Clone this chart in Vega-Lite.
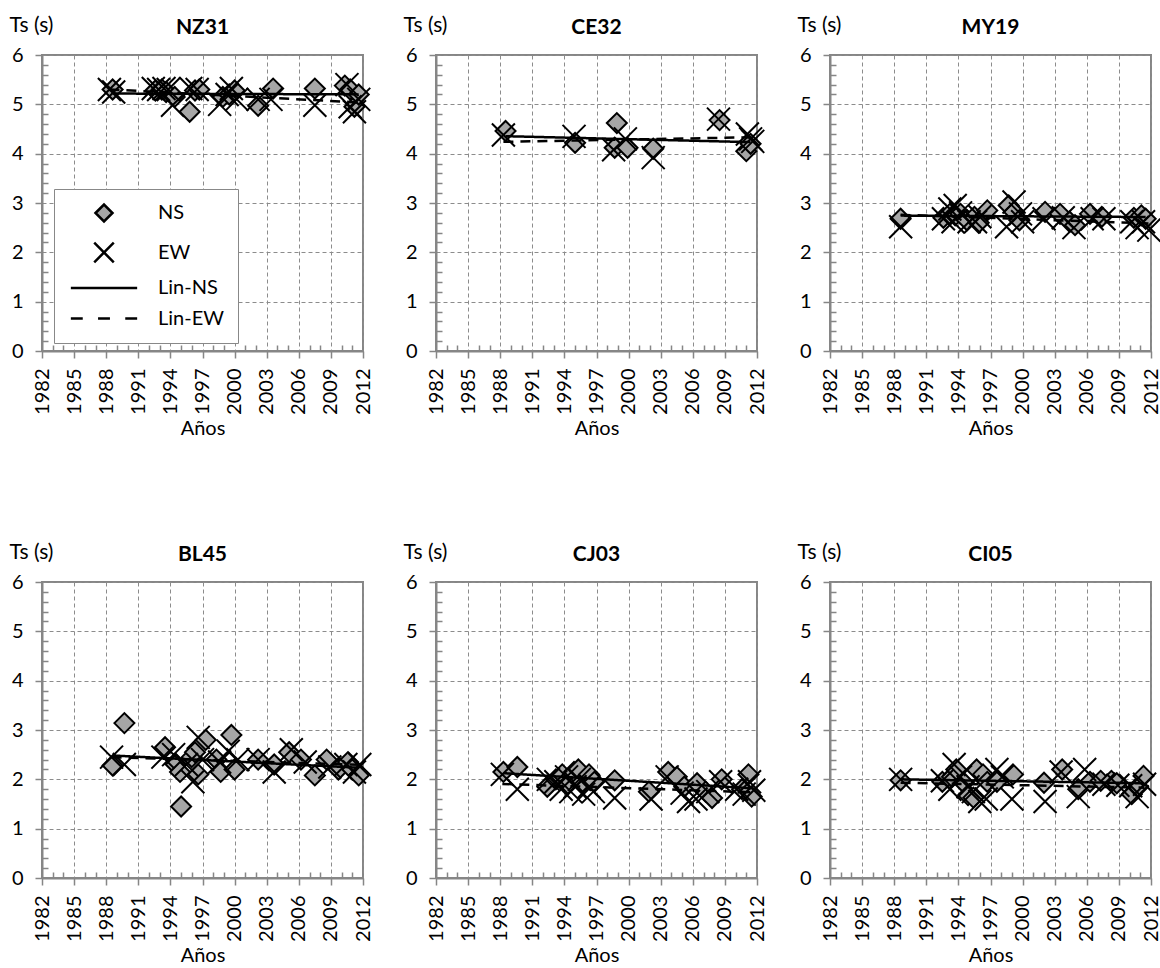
{
  "$schema": "https://vega.github.io/schema/vega-lite/v6.json",
  "padding": {"left": 8, "top": 13, "right": 5, "bottom": 2},
  "background": "white",
  "datasets": {
    "d": [
      {"st":"NZ31","comp":"NS","year":1988.6,"Ts":5.3},
      {"st":"NZ31","comp":"NS","year":1992.6,"Ts":5.28},
      {"st":"NZ31","comp":"NS","year":1993.2,"Ts":5.3},
      {"st":"NZ31","comp":"NS","year":1993.6,"Ts":5.25},
      {"st":"NZ31","comp":"NS","year":1994.4,"Ts":5.15},
      {"st":"NZ31","comp":"NS","year":1995.8,"Ts":4.85},
      {"st":"NZ31","comp":"NS","year":1996.3,"Ts":5.28},
      {"st":"NZ31","comp":"NS","year":1996.7,"Ts":5.3},
      {"st":"NZ31","comp":"NS","year":1998.9,"Ts":5.15},
      {"st":"NZ31","comp":"NS","year":1999.5,"Ts":5.2},
      {"st":"NZ31","comp":"NS","year":2000.0,"Ts":5.28},
      {"st":"NZ31","comp":"NS","year":2002.2,"Ts":4.97},
      {"st":"NZ31","comp":"NS","year":2003.6,"Ts":5.32},
      {"st":"NZ31","comp":"NS","year":2007.5,"Ts":5.32},
      {"st":"NZ31","comp":"NS","year":2010.3,"Ts":5.38},
      {"st":"NZ31","comp":"NS","year":2010.8,"Ts":5.3},
      {"st":"NZ31","comp":"NS","year":2011.2,"Ts":4.95},
      {"st":"NZ31","comp":"NS","year":2011.6,"Ts":5.2},
      {"st":"NZ31","comp":"EW","year":1988.3,"Ts":5.3},
      {"st":"NZ31","comp":"EW","year":1988.7,"Ts":5.25},
      {"st":"NZ31","comp":"EW","year":1992.4,"Ts":5.32},
      {"st":"NZ31","comp":"EW","year":1992.9,"Ts":5.3},
      {"st":"NZ31","comp":"EW","year":1993.4,"Ts":5.32},
      {"st":"NZ31","comp":"EW","year":1993.8,"Ts":5.3},
      {"st":"NZ31","comp":"EW","year":1994.2,"Ts":4.98},
      {"st":"NZ31","comp":"EW","year":1995.9,"Ts":5.32},
      {"st":"NZ31","comp":"EW","year":1996.5,"Ts":5.3},
      {"st":"NZ31","comp":"EW","year":1998.6,"Ts":5.0},
      {"st":"NZ31","comp":"EW","year":1999.3,"Ts":5.2},
      {"st":"NZ31","comp":"EW","year":1999.7,"Ts":5.32},
      {"st":"NZ31","comp":"EW","year":2000.2,"Ts":5.1},
      {"st":"NZ31","comp":"EW","year":2002.2,"Ts":5.1},
      {"st":"NZ31","comp":"EW","year":2003.4,"Ts":5.1},
      {"st":"NZ31","comp":"EW","year":2007.5,"Ts":4.98},
      {"st":"NZ31","comp":"EW","year":2010.5,"Ts":5.4},
      {"st":"NZ31","comp":"EW","year":2010.8,"Ts":4.95},
      {"st":"NZ31","comp":"EW","year":2011.2,"Ts":4.85},
      {"st":"NZ31","comp":"EW","year":2011.6,"Ts":5.1},

      {"st":"CE32","comp":"NS","year":1988.5,"Ts":4.46},
      {"st":"CE32","comp":"NS","year":1995.0,"Ts":4.22},
      {"st":"CE32","comp":"NS","year":1998.9,"Ts":4.62},
      {"st":"CE32","comp":"NS","year":1998.7,"Ts":4.12},
      {"st":"CE32","comp":"NS","year":1999.9,"Ts":4.12},
      {"st":"CE32","comp":"NS","year":2002.3,"Ts":4.1},
      {"st":"CE32","comp":"NS","year":2008.5,"Ts":4.68},
      {"st":"CE32","comp":"NS","year":2011.0,"Ts":4.05},
      {"st":"CE32","comp":"NS","year":2011.4,"Ts":4.2},
      {"st":"CE32","comp":"EW","year":1988.3,"Ts":4.38},
      {"st":"CE32","comp":"EW","year":1994.9,"Ts":4.35},
      {"st":"CE32","comp":"EW","year":1998.6,"Ts":4.08},
      {"st":"CE32","comp":"EW","year":1999.7,"Ts":4.3},
      {"st":"CE32","comp":"EW","year":2002.3,"Ts":3.92},
      {"st":"CE32","comp":"EW","year":2008.4,"Ts":4.7},
      {"st":"CE32","comp":"EW","year":2011.1,"Ts":4.4},
      {"st":"CE32","comp":"EW","year":2011.4,"Ts":4.3},
      {"st":"CE32","comp":"EW","year":2011.6,"Ts":4.25},

      {"st":"MY19","comp":"NS","year":1988.6,"Ts":2.68},
      {"st":"MY19","comp":"NS","year":1992.6,"Ts":2.7},
      {"st":"MY19","comp":"NS","year":1993.2,"Ts":2.78},
      {"st":"MY19","comp":"NS","year":1993.7,"Ts":2.75},
      {"st":"MY19","comp":"NS","year":1994.2,"Ts":2.78},
      {"st":"MY19","comp":"NS","year":1994.8,"Ts":2.65},
      {"st":"MY19","comp":"NS","year":1995.5,"Ts":2.72},
      {"st":"MY19","comp":"NS","year":1995.9,"Ts":2.6},
      {"st":"MY19","comp":"NS","year":1996.7,"Ts":2.85},
      {"st":"MY19","comp":"NS","year":1998.7,"Ts":2.95},
      {"st":"MY19","comp":"NS","year":1999.2,"Ts":2.82},
      {"st":"MY19","comp":"NS","year":1999.7,"Ts":2.65},
      {"st":"MY19","comp":"NS","year":2002.1,"Ts":2.82},
      {"st":"MY19","comp":"NS","year":2003.5,"Ts":2.78},
      {"st":"MY19","comp":"NS","year":2004.4,"Ts":2.62},
      {"st":"MY19","comp":"NS","year":2004.9,"Ts":2.55},
      {"st":"MY19","comp":"NS","year":2006.3,"Ts":2.78},
      {"st":"MY19","comp":"NS","year":2007.4,"Ts":2.72},
      {"st":"MY19","comp":"NS","year":2010.4,"Ts":2.7},
      {"st":"MY19","comp":"NS","year":2011.1,"Ts":2.75},
      {"st":"MY19","comp":"NS","year":2011.5,"Ts":2.68},
      {"st":"MY19","comp":"EW","year":1988.6,"Ts":2.52},
      {"st":"MY19","comp":"EW","year":1992.6,"Ts":2.68},
      {"st":"MY19","comp":"EW","year":1993.2,"Ts":2.88},
      {"st":"MY19","comp":"EW","year":1993.5,"Ts":2.62},
      {"st":"MY19","comp":"EW","year":1993.7,"Ts":2.95},
      {"st":"MY19","comp":"EW","year":1994.2,"Ts":2.8},
      {"st":"MY19","comp":"EW","year":1995.0,"Ts":2.62},
      {"st":"MY19","comp":"EW","year":1995.6,"Ts":2.62},
      {"st":"MY19","comp":"EW","year":1996.0,"Ts":2.72},
      {"st":"MY19","comp":"EW","year":1998.5,"Ts":2.52},
      {"st":"MY19","comp":"EW","year":1999.2,"Ts":3.02},
      {"st":"MY19","comp":"EW","year":1999.8,"Ts":2.78},
      {"st":"MY19","comp":"EW","year":2000.0,"Ts":2.62},
      {"st":"MY19","comp":"EW","year":2002.0,"Ts":2.68},
      {"st":"MY19","comp":"EW","year":2003.8,"Ts":2.7},
      {"st":"MY19","comp":"EW","year":2004.8,"Ts":2.5},
      {"st":"MY19","comp":"EW","year":2006.5,"Ts":2.68},
      {"st":"MY19","comp":"EW","year":2007.6,"Ts":2.68},
      {"st":"MY19","comp":"EW","year":2010.2,"Ts":2.62},
      {"st":"MY19","comp":"EW","year":2010.7,"Ts":2.5},
      {"st":"MY19","comp":"EW","year":2011.3,"Ts":2.62},
      {"st":"MY19","comp":"EW","year":2011.8,"Ts":2.45},

      {"st":"BL45","comp":"NS","year":1988.6,"Ts":2.28},
      {"st":"BL45","comp":"NS","year":1989.7,"Ts":3.14},
      {"st":"BL45","comp":"NS","year":1993.5,"Ts":2.65},
      {"st":"BL45","comp":"NS","year":1994.5,"Ts":2.3},
      {"st":"BL45","comp":"NS","year":1994.9,"Ts":2.15},
      {"st":"BL45","comp":"NS","year":1995.0,"Ts":1.45},
      {"st":"BL45","comp":"NS","year":1996.0,"Ts":2.45},
      {"st":"BL45","comp":"NS","year":1996.3,"Ts":2.55},
      {"st":"BL45","comp":"NS","year":1996.6,"Ts":2.1},
      {"st":"BL45","comp":"NS","year":1997.3,"Ts":2.8},
      {"st":"BL45","comp":"NS","year":1998.3,"Ts":2.4},
      {"st":"BL45","comp":"NS","year":1998.7,"Ts":2.15},
      {"st":"BL45","comp":"NS","year":1999.7,"Ts":2.9},
      {"st":"BL45","comp":"NS","year":2000.0,"Ts":2.2},
      {"st":"BL45","comp":"NS","year":2002.2,"Ts":2.4},
      {"st":"BL45","comp":"NS","year":2003.7,"Ts":2.3},
      {"st":"BL45","comp":"NS","year":2005.1,"Ts":2.55},
      {"st":"BL45","comp":"NS","year":2006.2,"Ts":2.4},
      {"st":"BL45","comp":"NS","year":2007.5,"Ts":2.08},
      {"st":"BL45","comp":"NS","year":2008.6,"Ts":2.4},
      {"st":"BL45","comp":"NS","year":2009.7,"Ts":2.2},
      {"st":"BL45","comp":"NS","year":2010.6,"Ts":2.35},
      {"st":"BL45","comp":"NS","year":2011.0,"Ts":2.2},
      {"st":"BL45","comp":"NS","year":2011.6,"Ts":2.08},
      {"st":"BL45","comp":"EW","year":1988.5,"Ts":2.45},
      {"st":"BL45","comp":"EW","year":1989.7,"Ts":2.3},
      {"st":"BL45","comp":"EW","year":1993.3,"Ts":2.45},
      {"st":"BL45","comp":"EW","year":1994.3,"Ts":2.5},
      {"st":"BL45","comp":"EW","year":1995.5,"Ts":2.3},
      {"st":"BL45","comp":"EW","year":1996.1,"Ts":1.95},
      {"st":"BL45","comp":"EW","year":1996.6,"Ts":2.85},
      {"st":"BL45","comp":"EW","year":1997.0,"Ts":2.4},
      {"st":"BL45","comp":"EW","year":1998.6,"Ts":2.35},
      {"st":"BL45","comp":"EW","year":1999.4,"Ts":2.57},
      {"st":"BL45","comp":"EW","year":2000.3,"Ts":2.4},
      {"st":"BL45","comp":"EW","year":2002.2,"Ts":2.4},
      {"st":"BL45","comp":"EW","year":2003.7,"Ts":2.15},
      {"st":"BL45","comp":"EW","year":2005.3,"Ts":2.6},
      {"st":"BL45","comp":"EW","year":2006.6,"Ts":2.35},
      {"st":"BL45","comp":"EW","year":2008.9,"Ts":2.25},
      {"st":"BL45","comp":"EW","year":2010.4,"Ts":2.3},
      {"st":"BL45","comp":"EW","year":2011.2,"Ts":2.15},
      {"st":"BL45","comp":"EW","year":2011.7,"Ts":2.3},

      {"st":"CJ03","comp":"NS","year":1988.3,"Ts":2.15},
      {"st":"CJ03","comp":"NS","year":1989.6,"Ts":2.25},
      {"st":"CJ03","comp":"NS","year":1992.4,"Ts":1.85},
      {"st":"CJ03","comp":"NS","year":1993.2,"Ts":2.0},
      {"st":"CJ03","comp":"NS","year":1993.8,"Ts":2.1},
      {"st":"CJ03","comp":"NS","year":1994.3,"Ts":1.9},
      {"st":"CJ03","comp":"NS","year":1994.9,"Ts":2.15},
      {"st":"CJ03","comp":"NS","year":1995.3,"Ts":2.2},
      {"st":"CJ03","comp":"NS","year":1995.7,"Ts":1.95},
      {"st":"CJ03","comp":"NS","year":1996.3,"Ts":2.1},
      {"st":"CJ03","comp":"NS","year":1996.8,"Ts":1.95},
      {"st":"CJ03","comp":"NS","year":1998.7,"Ts":1.98},
      {"st":"CJ03","comp":"NS","year":2001.9,"Ts":1.75},
      {"st":"CJ03","comp":"NS","year":2003.7,"Ts":2.15},
      {"st":"CJ03","comp":"NS","year":2004.5,"Ts":2.05},
      {"st":"CJ03","comp":"NS","year":2005.2,"Ts":1.85},
      {"st":"CJ03","comp":"NS","year":2006.4,"Ts":1.92},
      {"st":"CJ03","comp":"NS","year":2007.2,"Ts":1.75},
      {"st":"CJ03","comp":"NS","year":2007.8,"Ts":1.62},
      {"st":"CJ03","comp":"NS","year":2008.7,"Ts":2.0},
      {"st":"CJ03","comp":"NS","year":2010.6,"Ts":1.8},
      {"st":"CJ03","comp":"NS","year":2011.2,"Ts":2.1},
      {"st":"CJ03","comp":"NS","year":2011.5,"Ts":1.65},
      {"st":"CJ03","comp":"EW","year":1988.2,"Ts":2.1},
      {"st":"CJ03","comp":"EW","year":1989.6,"Ts":1.8},
      {"st":"CJ03","comp":"EW","year":1992.5,"Ts":2.0},
      {"st":"CJ03","comp":"EW","year":1993.2,"Ts":1.95},
      {"st":"CJ03","comp":"EW","year":1993.7,"Ts":1.8},
      {"st":"CJ03","comp":"EW","year":1994.2,"Ts":2.05},
      {"st":"CJ03","comp":"EW","year":1994.6,"Ts":1.75},
      {"st":"CJ03","comp":"EW","year":1995.0,"Ts":1.85},
      {"st":"CJ03","comp":"EW","year":1995.4,"Ts":2.0},
      {"st":"CJ03","comp":"EW","year":1995.8,"Ts":1.7},
      {"st":"CJ03","comp":"EW","year":1996.3,"Ts":1.85},
      {"st":"CJ03","comp":"EW","year":1996.7,"Ts":1.75},
      {"st":"CJ03","comp":"EW","year":1998.7,"Ts":1.62},
      {"st":"CJ03","comp":"EW","year":2002.1,"Ts":1.6},
      {"st":"CJ03","comp":"EW","year":2003.6,"Ts":2.05},
      {"st":"CJ03","comp":"EW","year":2005.0,"Ts":1.72},
      {"st":"CJ03","comp":"EW","year":2005.6,"Ts":1.55},
      {"st":"CJ03","comp":"EW","year":2006.3,"Ts":1.6},
      {"st":"CJ03","comp":"EW","year":2007.4,"Ts":1.75},
      {"st":"CJ03","comp":"EW","year":2008.6,"Ts":1.95},
      {"st":"CJ03","comp":"EW","year":2010.1,"Ts":1.8},
      {"st":"CJ03","comp":"EW","year":2010.8,"Ts":1.7},
      {"st":"CJ03","comp":"EW","year":2011.3,"Ts":1.95},
      {"st":"CJ03","comp":"EW","year":2011.7,"Ts":1.78},

      {"st":"CI05","comp":"NS","year":1988.6,"Ts":1.98},
      {"st":"CI05","comp":"NS","year":1992.5,"Ts":1.95},
      {"st":"CI05","comp":"NS","year":1993.4,"Ts":2.05},
      {"st":"CI05","comp":"NS","year":1993.8,"Ts":2.2},
      {"st":"CI05","comp":"NS","year":1994.5,"Ts":1.93},
      {"st":"CI05","comp":"NS","year":1994.9,"Ts":1.68},
      {"st":"CI05","comp":"NS","year":1995.4,"Ts":1.63},
      {"st":"CI05","comp":"NS","year":1995.7,"Ts":2.2},
      {"st":"CI05","comp":"NS","year":1996.3,"Ts":2.1},
      {"st":"CI05","comp":"NS","year":1996.7,"Ts":1.95},
      {"st":"CI05","comp":"NS","year":1997.6,"Ts":1.95},
      {"st":"CI05","comp":"NS","year":1999.1,"Ts":2.1},
      {"st":"CI05","comp":"NS","year":2002.0,"Ts":1.93},
      {"st":"CI05","comp":"NS","year":2003.7,"Ts":2.2},
      {"st":"CI05","comp":"NS","year":2005.2,"Ts":1.8},
      {"st":"CI05","comp":"NS","year":2006.3,"Ts":1.95},
      {"st":"CI05","comp":"NS","year":2007.3,"Ts":1.97},
      {"st":"CI05","comp":"NS","year":2008.3,"Ts":1.97},
      {"st":"CI05","comp":"NS","year":2008.8,"Ts":1.92},
      {"st":"CI05","comp":"NS","year":2010.2,"Ts":1.7},
      {"st":"CI05","comp":"NS","year":2010.8,"Ts":1.85},
      {"st":"CI05","comp":"NS","year":2011.3,"Ts":2.07},
      {"st":"CI05","comp":"EW","year":1988.6,"Ts":2.0},
      {"st":"CI05","comp":"EW","year":1992.5,"Ts":1.97},
      {"st":"CI05","comp":"EW","year":1993.2,"Ts":1.8},
      {"st":"CI05","comp":"EW","year":1993.6,"Ts":2.3},
      {"st":"CI05","comp":"EW","year":1994.2,"Ts":2.05},
      {"st":"CI05","comp":"EW","year":1994.9,"Ts":1.85},
      {"st":"CI05","comp":"EW","year":1995.4,"Ts":1.75},
      {"st":"CI05","comp":"EW","year":1996.0,"Ts":1.55},
      {"st":"CI05","comp":"EW","year":1996.6,"Ts":1.6},
      {"st":"CI05","comp":"EW","year":1997.6,"Ts":2.2},
      {"st":"CI05","comp":"EW","year":1998.1,"Ts":2.05},
      {"st":"CI05","comp":"EW","year":1999.0,"Ts":1.6},
      {"st":"CI05","comp":"EW","year":2002.1,"Ts":1.55},
      {"st":"CI05","comp":"EW","year":2003.6,"Ts":2.15},
      {"st":"CI05","comp":"EW","year":2005.2,"Ts":1.65},
      {"st":"CI05","comp":"EW","year":2005.8,"Ts":2.2},
      {"st":"CI05","comp":"EW","year":2007.6,"Ts":1.9},
      {"st":"CI05","comp":"EW","year":2008.9,"Ts":1.88},
      {"st":"CI05","comp":"EW","year":2010.1,"Ts":1.87},
      {"st":"CI05","comp":"EW","year":2010.7,"Ts":1.65},
      {"st":"CI05","comp":"EW","year":2011.4,"Ts":1.9}
    ]
  },
  "columns": 3,
  "spacing": {"row": 100, "column": 25},
  "resolve": {"scale": {"shape": "independent", "stroke": "independent", "strokeDash": "independent"}, "legend": {"shape": "independent", "stroke": "independent"}},
  "concat": [
    {
      "width": 321, "height": 296,
      "title": "NZ31",
      "data": {"name": "d"},
      "transform": [{"filter": "datum.st == 'NZ31'"}],
      "layer": [
        {
          "mark": {"type": "point", "filled": true, "fill": "#a6a6a6", "strokeWidth": 2, "size": 400, "opacity": 1},
          "encoding": {
            "x": {"field": "year", "type": "quantitative", "scale": {"domain": [1982, 2012], "nice": false, "zero": false},
              "axis": {"title": "Años", "tickCount": 100, "values": [1982,1983,1984,1985,1986,1987,1988,1989,1990,1991,1992,1993,1994,1995,1996,1997,1998,1999,2000,2001,2002,2003,2004,2005,2006,2007,2008,2009,2010,2011,2012],
                "labelExpr": "(datum.value - 1982) % 3 == 0 ? format(datum.value, 'd') : ''",
                "gridOpacity": {"condition": {"test": "(datum.value - 1982) % 3 == 0", "value": 1}, "value": 0},
                "tickSize": {"condition": {"test": "(datum.value - 1982) % 3 == 0", "value": 7}, "value": -6}}},
            "y": {"field": "Ts", "type": "quantitative", "scale": {"domain": [0, 6], "nice": false, "zero": true},
              "axis": {"title": "Ts (s)", "tickCount": 100, "values": [0,0.2,0.4,0.6,0.8,1,1.2,1.4,1.6,1.8,2,2.2,2.4,2.6,2.8,3,3.2,3.4,3.6,3.8,4,4.2,4.4,4.6,4.8,5,5.2,5.4,5.6,5.8,6],
                "labelExpr": "abs(datum.value - round(datum.value)) < 0.001 ? format(datum.value, 'd') : ''",
                "gridOpacity": {"condition": {"test": "abs(datum.value - round(datum.value)) < 0.001", "value": 1}, "value": 0},
                "tickSize": {"condition": {"test": "abs(datum.value - round(datum.value)) < 0.001", "value": 7}, "value": -6}}},
            "shape": {"field": "comp", "type": "nominal",
              "scale": {"domain": ["NS", "EW", "Lin-NS", "Lin-EW"], "range": ["diamond", "M-1.15,-1.15L1.15,1.15M-1.15,1.15L1.15,-1.15", "M-3.9,0H3.9", "M-3.9,0H-2.5M-0.7,0H0.7M2.5,0H3.9"]},
              "legend": {"title": null, "orient": "none", "legendX": 12, "legendY": 134, "padding": 14, "symbolOffset": 26, "labelOffset": 44, "rowPadding": 10.5, "symbolSize": 289, "fillColor": "white", "strokeColor": "#888888", "symbolFillColor": "#a6a6a6", "symbolStrokeColor": "black", "symbolStrokeWidth": 2.5, "labelFontSize": 20, "labelFont": "Lato", "labelColor": "black"}},
            "stroke": {"field": "comp", "type": "nominal",
              "scale": {"domain": ["NS", "EW", "Lin-NS", "Lin-EW"], "range": ["black", "black", "black", "black"]},
              "legend": {"title": null, "orient": "none", "legendX": 12, "legendY": 134, "padding": 14, "symbolOffset": 26, "labelOffset": 44, "rowPadding": 10.5, "symbolSize": 289, "fillColor": "white", "strokeColor": "#888888", "symbolFillColor": "#a6a6a6", "symbolStrokeColor": "black", "symbolStrokeWidth": 2.5, "labelFontSize": 20, "labelFont": "Lato", "labelColor": "black"}}
          }
        },
        {
          "transform": [{"regression": "Ts", "on": "year", "groupby": ["comp"]}],
          "mark": {"type": "line", "color": "black", "strokeWidth": 2.5},
          "encoding": {
            "x": {"field": "year", "type": "quantitative"},
            "y": {"field": "Ts", "type": "quantitative"},
            "detail": {"field": "comp", "type": "nominal"},
            "strokeDash": {"field": "comp", "type": "nominal", "scale": {"domain": ["NS", "EW"], "range": [[1, 0], [10, 7]]}, "legend": null}
          }
        }
      ]
    },
    {
      "width": 321, "height": 296,
      "title": "CE32",
      "data": {"name": "d"},
      "transform": [{"filter": "datum.st == 'CE32'"}],
      "layer": [
        {
          "mark": {"type": "point", "filled": true, "fill": "#a6a6a6", "stroke": "black", "strokeWidth": 2, "size": 400, "opacity": 1},
          "encoding": {
            "x": {"field": "year", "type": "quantitative", "scale": {"domain": [1982, 2012], "nice": false, "zero": false},
              "axis": {"title": "Años", "tickCount": 100, "values": [1982,1983,1984,1985,1986,1987,1988,1989,1990,1991,1992,1993,1994,1995,1996,1997,1998,1999,2000,2001,2002,2003,2004,2005,2006,2007,2008,2009,2010,2011,2012],
                "labelExpr": "(datum.value - 1982) % 3 == 0 ? format(datum.value, 'd') : ''",
                "gridOpacity": {"condition": {"test": "(datum.value - 1982) % 3 == 0", "value": 1}, "value": 0},
                "tickSize": {"condition": {"test": "(datum.value - 1982) % 3 == 0", "value": 7}, "value": -6}}},
            "y": {"field": "Ts", "type": "quantitative", "scale": {"domain": [0, 6], "nice": false, "zero": true},
              "axis": {"title": "Ts (s)", "tickCount": 100, "values": [0,0.2,0.4,0.6,0.8,1,1.2,1.4,1.6,1.8,2,2.2,2.4,2.6,2.8,3,3.2,3.4,3.6,3.8,4,4.2,4.4,4.6,4.8,5,5.2,5.4,5.6,5.8,6],
                "labelExpr": "abs(datum.value - round(datum.value)) < 0.001 ? format(datum.value, 'd') : ''",
                "gridOpacity": {"condition": {"test": "abs(datum.value - round(datum.value)) < 0.001", "value": 1}, "value": 0},
                "tickSize": {"condition": {"test": "abs(datum.value - round(datum.value)) < 0.001", "value": 7}, "value": -6}}},
            "shape": {"field": "comp", "type": "nominal", "scale": {"domain": ["NS", "EW"], "range": ["diamond", "M-1.15,-1.15L1.15,1.15M-1.15,1.15L1.15,-1.15"]}, "legend": null}
          }
        },
        {
          "transform": [{"regression": "Ts", "on": "year", "groupby": ["comp"]}],
          "mark": {"type": "line", "color": "black", "strokeWidth": 2.5},
          "encoding": {
            "x": {"field": "year", "type": "quantitative"},
            "y": {"field": "Ts", "type": "quantitative"},
            "strokeDash": {"field": "comp", "type": "nominal", "scale": {"domain": ["NS", "EW"], "range": [[1, 0], [10, 7]]}, "legend": null}
          }
        }
      ]
    },
    {
      "width": 321, "height": 296,
      "title": "MY19",
      "data": {"name": "d"},
      "transform": [{"filter": "datum.st == 'MY19'"}],
      "layer": [
        {
          "mark": {"type": "point", "filled": true, "fill": "#a6a6a6", "stroke": "black", "strokeWidth": 2, "size": 400, "opacity": 1},
          "encoding": {
            "x": {"field": "year", "type": "quantitative", "scale": {"domain": [1982, 2012], "nice": false, "zero": false},
              "axis": {"title": "Años", "tickCount": 100, "values": [1982,1983,1984,1985,1986,1987,1988,1989,1990,1991,1992,1993,1994,1995,1996,1997,1998,1999,2000,2001,2002,2003,2004,2005,2006,2007,2008,2009,2010,2011,2012],
                "labelExpr": "(datum.value - 1982) % 3 == 0 ? format(datum.value, 'd') : ''",
                "gridOpacity": {"condition": {"test": "(datum.value - 1982) % 3 == 0", "value": 1}, "value": 0},
                "tickSize": {"condition": {"test": "(datum.value - 1982) % 3 == 0", "value": 7}, "value": -6}}},
            "y": {"field": "Ts", "type": "quantitative", "scale": {"domain": [0, 6], "nice": false, "zero": true},
              "axis": {"title": "Ts (s)", "tickCount": 100, "values": [0,0.2,0.4,0.6,0.8,1,1.2,1.4,1.6,1.8,2,2.2,2.4,2.6,2.8,3,3.2,3.4,3.6,3.8,4,4.2,4.4,4.6,4.8,5,5.2,5.4,5.6,5.8,6],
                "labelExpr": "abs(datum.value - round(datum.value)) < 0.001 ? format(datum.value, 'd') : ''",
                "gridOpacity": {"condition": {"test": "abs(datum.value - round(datum.value)) < 0.001", "value": 1}, "value": 0},
                "tickSize": {"condition": {"test": "abs(datum.value - round(datum.value)) < 0.001", "value": 7}, "value": -6}}},
            "shape": {"field": "comp", "type": "nominal", "scale": {"domain": ["NS", "EW"], "range": ["diamond", "M-1.15,-1.15L1.15,1.15M-1.15,1.15L1.15,-1.15"]}, "legend": null}
          }
        },
        {
          "transform": [{"regression": "Ts", "on": "year", "groupby": ["comp"]}],
          "mark": {"type": "line", "color": "black", "strokeWidth": 2.5},
          "encoding": {
            "x": {"field": "year", "type": "quantitative"},
            "y": {"field": "Ts", "type": "quantitative"},
            "strokeDash": {"field": "comp", "type": "nominal", "scale": {"domain": ["NS", "EW"], "range": [[1, 0], [10, 7]]}, "legend": null}
          }
        }
      ]
    },
    {
      "width": 321, "height": 296,
      "title": "BL45",
      "data": {"name": "d"},
      "transform": [{"filter": "datum.st == 'BL45'"}],
      "layer": [
        {
          "mark": {"type": "point", "filled": true, "fill": "#a6a6a6", "stroke": "black", "strokeWidth": 2, "size": 400, "opacity": 1},
          "encoding": {
            "x": {"field": "year", "type": "quantitative", "scale": {"domain": [1982, 2012], "nice": false, "zero": false},
              "axis": {"title": "Años", "tickCount": 100, "values": [1982,1983,1984,1985,1986,1987,1988,1989,1990,1991,1992,1993,1994,1995,1996,1997,1998,1999,2000,2001,2002,2003,2004,2005,2006,2007,2008,2009,2010,2011,2012],
                "labelExpr": "(datum.value - 1982) % 3 == 0 ? format(datum.value, 'd') : ''",
                "gridOpacity": {"condition": {"test": "(datum.value - 1982) % 3 == 0", "value": 1}, "value": 0},
                "tickSize": {"condition": {"test": "(datum.value - 1982) % 3 == 0", "value": 7}, "value": -6}}},
            "y": {"field": "Ts", "type": "quantitative", "scale": {"domain": [0, 6], "nice": false, "zero": true},
              "axis": {"title": "Ts (s)", "tickCount": 100, "values": [0,0.2,0.4,0.6,0.8,1,1.2,1.4,1.6,1.8,2,2.2,2.4,2.6,2.8,3,3.2,3.4,3.6,3.8,4,4.2,4.4,4.6,4.8,5,5.2,5.4,5.6,5.8,6],
                "labelExpr": "abs(datum.value - round(datum.value)) < 0.001 ? format(datum.value, 'd') : ''",
                "gridOpacity": {"condition": {"test": "abs(datum.value - round(datum.value)) < 0.001", "value": 1}, "value": 0},
                "tickSize": {"condition": {"test": "abs(datum.value - round(datum.value)) < 0.001", "value": 7}, "value": -6}}},
            "shape": {"field": "comp", "type": "nominal", "scale": {"domain": ["NS", "EW"], "range": ["diamond", "M-1.15,-1.15L1.15,1.15M-1.15,1.15L1.15,-1.15"]}, "legend": null}
          }
        },
        {
          "transform": [{"regression": "Ts", "on": "year", "groupby": ["comp"]}],
          "mark": {"type": "line", "color": "black", "strokeWidth": 2.5},
          "encoding": {
            "x": {"field": "year", "type": "quantitative"},
            "y": {"field": "Ts", "type": "quantitative"},
            "strokeDash": {"field": "comp", "type": "nominal", "scale": {"domain": ["NS", "EW"], "range": [[1, 0], [10, 7]]}, "legend": null}
          }
        }
      ]
    },
    {
      "width": 321, "height": 296,
      "title": "CJ03",
      "data": {"name": "d"},
      "transform": [{"filter": "datum.st == 'CJ03'"}],
      "layer": [
        {
          "mark": {"type": "point", "filled": true, "fill": "#a6a6a6", "stroke": "black", "strokeWidth": 2, "size": 400, "opacity": 1},
          "encoding": {
            "x": {"field": "year", "type": "quantitative", "scale": {"domain": [1982, 2012], "nice": false, "zero": false},
              "axis": {"title": "Años", "tickCount": 100, "values": [1982,1983,1984,1985,1986,1987,1988,1989,1990,1991,1992,1993,1994,1995,1996,1997,1998,1999,2000,2001,2002,2003,2004,2005,2006,2007,2008,2009,2010,2011,2012],
                "labelExpr": "(datum.value - 1982) % 3 == 0 ? format(datum.value, 'd') : ''",
                "gridOpacity": {"condition": {"test": "(datum.value - 1982) % 3 == 0", "value": 1}, "value": 0},
                "tickSize": {"condition": {"test": "(datum.value - 1982) % 3 == 0", "value": 7}, "value": -6}}},
            "y": {"field": "Ts", "type": "quantitative", "scale": {"domain": [0, 6], "nice": false, "zero": true},
              "axis": {"title": "Ts (s)", "tickCount": 100, "values": [0,0.2,0.4,0.6,0.8,1,1.2,1.4,1.6,1.8,2,2.2,2.4,2.6,2.8,3,3.2,3.4,3.6,3.8,4,4.2,4.4,4.6,4.8,5,5.2,5.4,5.6,5.8,6],
                "labelExpr": "abs(datum.value - round(datum.value)) < 0.001 ? format(datum.value, 'd') : ''",
                "gridOpacity": {"condition": {"test": "abs(datum.value - round(datum.value)) < 0.001", "value": 1}, "value": 0},
                "tickSize": {"condition": {"test": "abs(datum.value - round(datum.value)) < 0.001", "value": 7}, "value": -6}}},
            "shape": {"field": "comp", "type": "nominal", "scale": {"domain": ["NS", "EW"], "range": ["diamond", "M-1.15,-1.15L1.15,1.15M-1.15,1.15L1.15,-1.15"]}, "legend": null}
          }
        },
        {
          "transform": [{"regression": "Ts", "on": "year", "groupby": ["comp"]}],
          "mark": {"type": "line", "color": "black", "strokeWidth": 2.5},
          "encoding": {
            "x": {"field": "year", "type": "quantitative"},
            "y": {"field": "Ts", "type": "quantitative"},
            "strokeDash": {"field": "comp", "type": "nominal", "scale": {"domain": ["NS", "EW"], "range": [[1, 0], [10, 7]]}, "legend": null}
          }
        }
      ]
    },
    {
      "width": 321, "height": 296,
      "title": "CI05",
      "data": {"name": "d"},
      "transform": [{"filter": "datum.st == 'CI05'"}],
      "layer": [
        {
          "mark": {"type": "point", "filled": true, "fill": "#a6a6a6", "stroke": "black", "strokeWidth": 2, "size": 400, "opacity": 1},
          "encoding": {
            "x": {"field": "year", "type": "quantitative", "scale": {"domain": [1982, 2012], "nice": false, "zero": false},
              "axis": {"title": "Años", "tickCount": 100, "values": [1982,1983,1984,1985,1986,1987,1988,1989,1990,1991,1992,1993,1994,1995,1996,1997,1998,1999,2000,2001,2002,2003,2004,2005,2006,2007,2008,2009,2010,2011,2012],
                "labelExpr": "(datum.value - 1982) % 3 == 0 ? format(datum.value, 'd') : ''",
                "gridOpacity": {"condition": {"test": "(datum.value - 1982) % 3 == 0", "value": 1}, "value": 0},
                "tickSize": {"condition": {"test": "(datum.value - 1982) % 3 == 0", "value": 7}, "value": -6}}},
            "y": {"field": "Ts", "type": "quantitative", "scale": {"domain": [0, 6], "nice": false, "zero": true},
              "axis": {"title": "Ts (s)", "tickCount": 100, "values": [0,0.2,0.4,0.6,0.8,1,1.2,1.4,1.6,1.8,2,2.2,2.4,2.6,2.8,3,3.2,3.4,3.6,3.8,4,4.2,4.4,4.6,4.8,5,5.2,5.4,5.6,5.8,6],
                "labelExpr": "abs(datum.value - round(datum.value)) < 0.001 ? format(datum.value, 'd') : ''",
                "gridOpacity": {"condition": {"test": "abs(datum.value - round(datum.value)) < 0.001", "value": 1}, "value": 0},
                "tickSize": {"condition": {"test": "abs(datum.value - round(datum.value)) < 0.001", "value": 7}, "value": -6}}},
            "shape": {"field": "comp", "type": "nominal", "scale": {"domain": ["NS", "EW"], "range": ["diamond", "M-1.15,-1.15L1.15,1.15M-1.15,1.15L1.15,-1.15"]}, "legend": null}
          }
        },
        {
          "transform": [{"regression": "Ts", "on": "year", "groupby": ["comp"]}],
          "mark": {"type": "line", "color": "black", "strokeWidth": 2.5},
          "encoding": {
            "x": {"field": "year", "type": "quantitative"},
            "y": {"field": "Ts", "type": "quantitative"},
            "strokeDash": {"field": "comp", "type": "nominal", "scale": {"domain": ["NS", "EW"], "range": [[1, 0], [10, 7]]}, "legend": null}
          }
        }
      ]
    }
  ],
  "config": {
    "font": "Lato",
    "view": {"stroke": "#868686", "strokeWidth": 2},
    "title": {"fontSize": 21, "fontWeight": "bold", "font": "Lato", "color": "black", "anchor": "middle", "offset": -24},
    "axis": {
      "labelFont": "Lato", "labelFontSize": 20, "labelColor": "black",
      "titleFont": "Lato", "titleFontSize": 20, "titleFontWeight": "normal", "titleColor": "black",
      "gridColor": "#8c8c8c", "gridDash": [4, 3], "gridWidth": 1,
      "domainColor": "#868686", "domainWidth": 2,
      "tickColor": "#868686", "tickWidth": 1.5,
      "labelOverlap": false, "labelFlush": false
    },
    "axisX": {"labelAngle": 270, "labelPadding": 10, "titlePadding": 4},
    "axisY": {"labelPadding": 12, "titleAngle": 0, "titleAlign": "left", "titleBaseline": "alphabetic", "titleX": -33, "titleY": -24, "titleFontSize": 21}
  }
}
